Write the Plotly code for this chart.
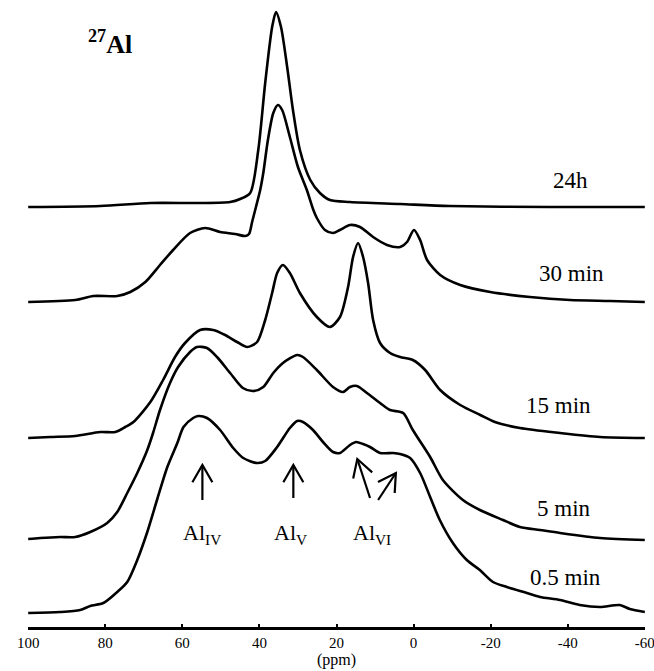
import math
import plotly.graph_objects as go

# ---------------- data ----------------
labels = ["24h", "30 min", "15 min", "5 min", "0.5 min"]
offsets = [420, 325, 189, 88, 14]

ppm_24h = [100, 81.3, 68.3, 55.4, 47.6, 45.0, 42.4, 40.3, 38.5, 36.7, 35.7, 34.4, 32.8,
           31.3, 29.5, 26.8, 24.3, 21.7, 16.5, 3.5, -9.4, -35.4, -60]
int_24h = [0, 1, 4, 4, 5, 8, 14, 57, 124, 180, 195, 180, 140,
           97, 57, 27, 14, 7, 5, 3, 1, 0, 0]

ppm_30m = [100, 87.8, 83.1, 76.9, 73.5, 69.6, 65.8, 62.4, 58.0, 54.1,
           50.2, 46.3, 43.7, 42.7, 41.9, 40.9, 39.8, 39.0, 37.8, 36.4,
           35.2, 34.1, 32.1, 30.0, 27.7, 26.0, 25.1, 23.0, 20.9, 19.1,
           16.5, 13.9, 10.5, 6.9, 3.5, 1.7, -0.1, -1.7, -3.5, -6.9,
           -12.1, -19.9, -30.2, -40.6, -51.0, -60]
int_30m = [0, 2, 6, 6, 10, 20, 37, 52, 69, 74,
           70, 68, 66, 68, 80, 95, 112, 129, 162, 189,
           197, 192, 165, 135, 112, 92, 84, 72, 69, 72,
           77, 75, 65, 57, 55, 60, 72, 62, 42, 27,
           17, 10, 5, 2, 1, 0]

ppm_15m = [100, 94.3, 87.8, 81.3, 77.4, 74.8, 72.7, 68.3, 65.0, 61.9,
           59.3, 55.4, 52.0, 48.9, 45.8, 43.2, 40.6, 38.5, 36.7, 35.4,
           33.9, 32.1, 29.5, 25.1, 21.7, 19.1, 17.0, 15.7, 14.4, 13.1,
           11.8, 10.5, 8.7, 6.1, 3.5, 0.2, -3.0, -6.9, -12.1, -17.3,
           -21.1, -27.6, -38.0, -48.4, -60]
int_15m = [0, 1, 2, 6, 6, 11, 16, 36, 58, 81,
           95, 108, 108, 103, 96, 91, 96, 118, 145, 165,
           173, 165, 145, 121, 111, 121, 151, 181, 195, 181,
           155, 118, 95, 85, 81, 78, 68, 48, 33, 23,
           16, 10, 5, 1, 0]

ppm_5m = [100, 96.9, 91.7, 87.8, 83.9, 79.5, 76.9, 74.3, 71.7, 69.1,
          67.6, 65.8, 63.2, 61.1, 58.0, 56.2, 53.6, 51.0, 47.6, 44.3,
          41.6, 39.0, 36.4, 33.9, 30.2, 28.7, 25.1, 20.9, 18.3, 16.5,
          14.7, 12.1, 8.7, 6.1, 2.7, 0.2, -4.3, -7.6, -12.8, -17.2,
          -23.2, -27.6, -32.8, -38.0, -48.4, -60]
int_5m = [0, 1, 2, 2, 7, 16, 27, 46, 66, 89,
          106, 129, 156, 172, 187, 192, 191, 182, 166, 151,
          148, 152, 166, 176, 184, 182, 169, 152, 147, 152,
          153, 146, 136, 129, 126, 109, 82, 59, 39, 29,
          19, 12, 9, 6, 1, -1]

ppm_05m = [100, 91.7, 86.5, 83.9, 80.5, 76.9, 74.3, 71.7, 69.1, 66.5,
           63.9, 61.3, 59.7, 57.2, 55.9, 53.6, 50.2, 46.8, 44.2, 40.6,
           38.5, 35.4, 32.1, 30.2, 28.7, 26.1, 23.5, 20.9, 19.1, 16.5,
           14.9, 13.1, 11.3, 8.7, 5.3, 3.5, 0.9, -1.7, -4.3, -6.8,
           -10.2, -13.8, -17.2, -20.6, -24.2, -29.4, -32.8, -38.0, -43.1, -48.4,
           -53.5, -56.1, -60]
int_05m = [0, 1, 3, 7, 10, 21, 31, 53, 81, 114,
           146, 170, 186, 195, 197, 195, 183, 165, 155, 150,
           152, 166, 185, 192, 191, 183, 171, 161, 160, 168,
           171, 169, 166, 160, 160, 159, 155, 140, 116, 93,
           70, 53, 43, 31, 26, 20, 16, 13, 8, 6,
           8, 4, 1]

spectra_ppm = [ppm_24h, ppm_30m, ppm_15m, ppm_5m, ppm_05m]
spectra_int = [int_24h, int_30m, int_15m, int_5m, int_05m]

tick_vals = [100, 80, 60, 40, 20, 0, -20, -40, -60]
tick_text = ["100", "80", "60", "40", "20", "0", "-20", "-40", "-60"]

species = ["Al<sub>IV</sub>", "Al<sub>V</sub>", "Al<sub>VI</sub>"]

# ---------------- figure ----------------
FONT = "Liberation Serif"
W, H = 654, 671
ML, MR, MT, MB = 28, 9, 0, 44
YMAX = H - MT - MB
X_LO, X_HI = 100.05, -60.05
PX_PER_PPM = (W - ML - MR) / (X_LO - X_HI)

fig = go.Figure()
for xs, ys, off in zip(spectra_ppm, spectra_int, offsets):
    fig.add_trace(go.Scatter(
        x=xs, y=[v + off for v in ys], mode="lines",
        line=dict(color="black", width=2.6, shape="spline", smoothing=0.75),
        hoverinfo="skip", showlegend=False))

annotations = []
label_pos = [(-40.8, 447), (-41.1, 354), (-37.5, 222), (-39.0, 119), (-39.3, 50)]
for lab, (lx, ly) in zip(labels, label_pos):
    annotations.append(dict(x=lx, y=ly, text=lab, showarrow=False,
                            font=dict(family=FONT, size=23, color="black"),
                            xanchor="center", yanchor="middle"))

species_pos = [(54.9, 93), (32.0, 93), (10.8, 93)]
for lab, (lx, ly) in zip(species, species_pos):
    annotations.append(dict(x=lx, y=ly, text=lab, showarrow=False,
                            font=dict(family=FONT, size=22, color="black"),
                            xanchor="center", yanchor="middle"))

annotations.append(dict(x=78.7, y=585, text="<b><sup>27</sup>Al</b>", showarrow=False,
                        font=dict(family=FONT, size=26, color="black"),
                        xanchor="center", yanchor="middle"))

# arrows: (tip ppm, tip h, tail ppm, tail h)
arrows = [(54.8, 162, 54.8, 127), (31.2, 162, 31.2, 129),
          (14.6, 168, 11.3, 129), (4.6, 154, 9.2, 127)]
shapes = []
for tx, ty, sx, sy in arrows:
    tu, tv = -tx * PX_PER_PPM, ty
    su, sv = -sx * PX_PER_PPM, sy
    du, dv = su - tu, sv - tv
    n = math.hypot(du, dv)
    du, dv = du / n, dv / n
    L, th = 20.0, math.radians(30)
    wings = []
    for s in (1, -1):
        c, si = math.cos(s * th), math.sin(s * th)
        wu = tu + L * (du * c - dv * si)
        wv = tv + L * (du * si + dv * c)
        wings.append((-wu / PX_PER_PPM, wv))
    shapes.append(dict(type="line", xref="x", yref="y", x0=sx, y0=sy, x1=tx, y1=ty,
                       line=dict(color="black", width=2.2)))
    path = "M{:.3f},{:.3f} L{:.3f},{:.3f} L{:.3f},{:.3f}".format(
        wings[0][0], wings[0][1], tx, ty, wings[1][0], wings[1][1])
    shapes.append(dict(type="path", xref="x", yref="y", path=path,
                       line=dict(color="black", width=2.2)))

fig.update_layout(
    width=W, height=H,
    margin=dict(l=ML, r=MR, t=MT, b=MB, pad=0),
    paper_bgcolor="white", plot_bgcolor="white",
    font=dict(family=FONT, color="black"),
    annotations=annotations, shapes=shapes,
    xaxis=dict(range=[X_LO, X_HI], tickvals=tick_vals, ticktext=tick_text,
               ticklabeloverflow="allow",
               showline=True, linewidth=3, linecolor="black", mirror=False,
               ticks="inside", ticklen=3, tickwidth=2, tickcolor="black",
               showgrid=False, zeroline=False,
               tickfont=dict(family=FONT, size=15, color="black"),
               title=dict(text="(ppm)", font=dict(family=FONT, size=16, color="black"),
                          standoff=2)),
    yaxis=dict(range=[0, YMAX], visible=False, showgrid=False, zeroline=False),
)

fig.write_html("out.html")
